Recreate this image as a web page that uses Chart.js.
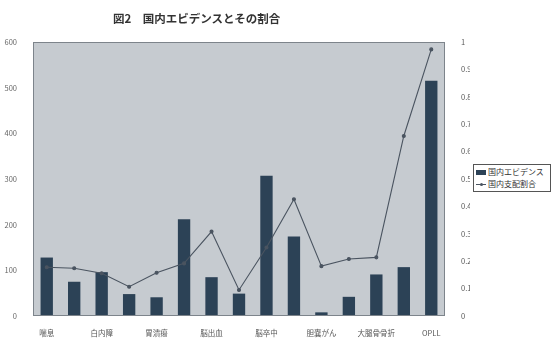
<!DOCTYPE html>
<html>
<head>
<meta charset="utf-8">
<script src="https://cdn.jsdelivr.net/npm/chart.js@4.4.1/dist/chart.umd.min.js"></script>
<style>
  html, body { margin: 0; padding: 0; background: #fff; }
  #wrap { position: relative; width: 552px; height: 338px; font-family: "Noto Sans CJK JP", sans-serif; }
  #title { position: absolute; left: 113px; top: 10px; font-size: 11.5px; font-weight: bold; color: #333; white-space: pre; }
  #legend { position: absolute; left: 473px; top: 164px; width: 72px; border: 1px solid #555; background: #fff;
            font-size: 8px; color: #333; padding: 1px 2px; line-height: 12px; }
  #legend div { white-space: nowrap; }
  .sw { display: inline-block; width: 10px; height: 5px; background: #2c4256; margin-right: 2px; vertical-align: middle; }
  .ln { display: inline-block; width: 10px; height: 1px; background: #4a5460; margin-right: 2px; vertical-align: middle; position: relative; }
  .ln::after { content: ""; position: absolute; left: 4px; top: -1px; width: 3px; height: 3px; background: #4a5460; border-radius: 50%; }
</style>
</head>
<body>
<div id="wrap">
  <canvas id="c" width="552" height="338"></canvas>
  <div id="title">図2　国内エビデンスとその割合</div>
  <div id="legend">
    <div><span class="sw"></span>国内エビデンス</div>
    <div><span class="ln"></span>国内支配割合</div>
  </div>
</div>
<script>
const categories = ["喘息", "", "白内障", "", "胃潰瘍", "", "脳出血", "", "脳卒中", "", "胆嚢がん", "", "大腿骨骨折", "", "OPLL"];
const evidenceCounts = [128, 75, 96, 48, 41, 212, 85, 49, 307, 174, 8, 42, 91, 107, 515];
const domesticShare = [0.178, 0.174, 0.156, 0.107, 0.158, 0.192, 0.308, 0.095, 0.25, 0.426, 0.182, 0.208, 0.214, 0.657, 0.973];
const leftTicks = [0, 100, 200, 300, 400, 500, 600];
const rightTicks = [0, 0.1, 0.2, 0.3, 0.4, 0.5, 0.6, 0.7, 0.8, 0.9, 1];

const plotBg = {
  id: "plotBg",
  beforeDraw(chart) {
    const { ctx, chartArea: a } = chart;
    ctx.save();
    ctx.fillStyle = "#c6cbd0";
    ctx.fillRect(a.left, a.top, a.right - a.left, a.bottom - a.top);
    ctx.restore();
  },
  afterDraw(chart) {
    const { ctx, chartArea: a } = chart;
    ctx.save();
    ctx.strokeStyle = "#7d848b";
    ctx.lineWidth = 1;
    ctx.strokeRect(a.left + 0.5, a.top + 0.5, a.right - a.left - 1, a.bottom - a.top - 1);
    ctx.restore();
  },
};

const tickFont = { family: "Noto Sans CJK JP", size: 7.5 };

new Chart(document.getElementById("c"), {
  data: {
    labels: categories,
    datasets: [
      {
        type: "line",
        label: "国内支配割合",
        data: domesticShare,
        yAxisID: "y1",
        borderColor: "#4a5460",
        backgroundColor: "#4a5460",
        borderWidth: 1.1,
        pointRadius: 1.5,
        tension: 0,
        order: 0,
      },
      {
        type: "bar",
        label: "国内エビデンス",
        data: evidenceCounts,
        yAxisID: "y",
        backgroundColor: "#2c4256",
        categoryPercentage: 1,
        barPercentage: 0.45,
        order: 1,
      },
    ],
  },
  options: {
    responsive: false,
    animation: false,
    layout: { padding: { top: 42, right: 82, bottom: 0, left: 0 } },
    plugins: { legend: { display: false }, tooltip: { enabled: false } },
    scales: {
      x: {
        grid: { display: false },
        border: { display: false },
        ticks: { color: "#555", font: tickFont, padding: 5, autoSkip: false, maxRotation: 0 },
        afterFit(s) { s.height = 22; },
      },
      y: {
        position: "left",
        min: 0, max: 600,
        afterBuildTicks(s) { s.ticks = leftTicks.map((v) => ({ value: v })); },
        grid: { display: false },
        border: { display: false },
        ticks: { color: "#666", font: tickFont, padding: 8, callback: (v) => String(v) },
        afterFit(s) { s.width = 33; },
      },
      y1: {
        position: "right",
        min: 0, max: 1,
        afterBuildTicks(s) { s.ticks = rightTicks.map((v) => ({ value: v })); },
        grid: { display: false },
        border: { display: false },
        ticks: { color: "#555", font: tickFont, padding: 8, callback: (v) => String(v) },
        afterFit(s) { s.width = 25; },
      },
    },
  },
  plugins: [plotBg],
});
</script>
</body>
</html>
